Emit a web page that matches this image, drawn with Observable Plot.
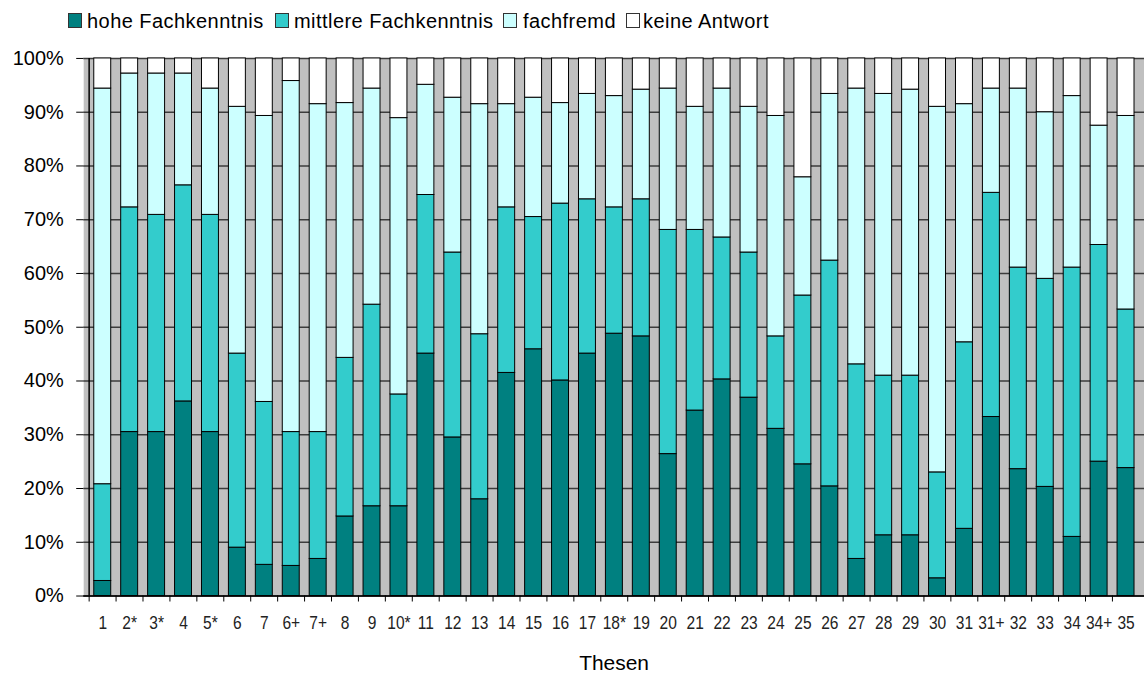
<!DOCTYPE html>
<html><head><meta charset="utf-8">
<script src="https://cdn.jsdelivr.net/npm/d3@7"></script>
<script src="https://cdn.jsdelivr.net/npm/@observablehq/plot@0.6"></script>
<style>
html,body{margin:0;padding:0;background:#fff;overflow:hidden;width:1144px;height:674px}
#legend{position:relative;height:40px;font-family:"Liberation Sans",Arial,sans-serif;font-size:20px;letter-spacing:0.45px;color:#000}
.sw{position:absolute;top:13px;width:12px;height:13px;border:1px solid #333}
.lt{position:absolute;top:9px;line-height:24px;white-space:nowrap}
#chart svg{display:block}
</style></head><body>
<div id="legend"></div><div id="chart"></div>
<script>
const theses = ["1","2*","3*","4","5*","6","7","6+","7+","8","9","10*","11","12","13","14","15","16","17","18*","19","20","21","22","23","24","25","26","27","28","29","30","31","31+","32","33","34","34+","35"];
const seriesNames = ["hohe Fachkenntnis","mittlere Fachkenntnis","fachfremd","keine Antwort"];
const seriesColors = ["#008080","#33cccc","#ccffff","#ffffff"];
const hohe      = [2.8,30.5,30.5,36.2,30.5,9.0,5.8,5.6,6.9,14.8,16.7,16.7,45.1,29.5,18.0,41.5,45.9,40.1,45.1,48.8,48.3,26.4,34.5,40.3,36.9,31.1,24.5,20.4,6.9,11.3,11.3,3.3,12.5,33.3,23.6,20.3,11.0,25.0,23.8];
const mittlere  = [18.0,41.8,40.4,40.2,40.4,36.1,30.3,24.9,23.6,29.5,37.5,20.8,29.5,34.4,30.7,30.8,24.6,32.9,28.7,23.5,25.5,41.7,33.6,26.4,27.0,17.2,31.4,42.0,36.2,29.7,29.7,19.7,34.7,41.7,37.5,38.7,50.1,40.3,29.5];
const fachfremd = [73.6,24.9,26.3,20.8,23.5,45.9,53.2,65.3,61.0,47.4,40.2,51.4,20.5,28.8,42.8,19.2,22.2,18.7,19.6,20.7,20.4,26.3,22.9,27.7,27.1,41.0,22.0,31.0,51.3,52.4,53.2,68.0,44.3,19.4,33.3,31.0,31.9,22.2,36.0];
const keine     = [5.6,2.8,2.8,2.8,5.6,9.0,10.7,4.2,8.5,8.3,5.6,11.1,4.9,7.3,8.5,8.5,7.3,8.3,6.6,7.0,5.8,5.6,9.0,5.6,9.0,10.7,22.1,6.6,5.6,6.6,5.8,9.0,8.5,5.6,5.6,10.0,7.0,12.5,10.7];
const yTicks = [0,0.1,0.2,0.3,0.4,0.5,0.6,0.7,0.8,0.9,1];
const xLabel = "Thesen";

const seriesValues = [hohe, mittlere, fachfremd, keine];
const data = [];
theses.forEach((t, i) => seriesNames.forEach((s, j) => data.push({thesis: t, series: s, value: seriesValues[j][i]})));

// legend
const legendPos = [[68,87],[275,294],[503,523],[626,643]];
const legend = document.getElementById("legend");
seriesNames.forEach((s, j) => {
  const sw = document.createElement("div");
  sw.className = "sw"; sw.style.left = legendPos[j][0] + "px"; sw.style.background = seriesColors[j];
  const lt = document.createElement("div");
  lt.className = "lt"; lt.style.left = legendPos[j][1] + "px"; lt.textContent = s;
  legend.append(sw, lt);
});

const W = 1147, mL = 83.4, mR = 0;
const half = (W - mL - mR) / theses.length / 2;
const narrow = 0.82;

const chart = Plot.plot({
  width: W, height: 634,
  marginLeft: mL, marginRight: mR, marginTop: 18, marginBottom: 77,
  style: {fontFamily: "'Liberation Sans', Arial, sans-serif", background: "transparent", overflow: "visible"},
  x: {domain: theses, paddingInner: 0.38, paddingOuter: 0.19, axis: null},
  y: {domain: [0, 1], axis: null},
  color: {domain: seriesNames, range: seriesColors},
  marks: [
    Plot.frame({fill: "#c0c0c0", stroke: null}),
    Plot.gridY(yTicks, {stroke: "#3c3c3c", strokeOpacity: 1, strokeWidth: 1.5}),
    Plot.barY(data, Plot.stackY({offset: "normalize", order: seriesNames}, {x: "thesis", y: "value", fill: "series", stroke: "#000", strokeWidth: 1})),
    Plot.axisY(yTicks, {tickSize: 7, tickPadding: 13, tickFormat: d3.format(".0%"), fontSize: 20, fill: "#000", stroke: "#000", label: null}),
    Plot.text(theses, {x: d => d, frameAnchor: "bottom", lineAnchor: "top", dy: 20, text: d => d, fontSize: 19, fill: "#222", ariaDescription: "xlabels"}),
    Plot.ruleX(theses, {x: d => d, dx: -half, y1: 0, y2: 0, insetBottom: -6, stroke: "#000", strokeWidth: 1}),
    Plot.ruleY([0], {stroke: "#000", strokeWidth: 1.5}),
    Plot.ruleX([theses[0]], {x: d => d, dx: -half, stroke: "#000", strokeWidth: 1.5}),
    Plot.text([xLabel], {frameAnchor: "bottom", lineAnchor: "middle", dy: 67, text: d => d, fontSize: 21, fill: "#000"})
  ]
});
// narrow face for x tick labels, as in the reference
chart.querySelectorAll('g[aria-description="xlabels"] text').forEach(t => {
  const tr = t.getAttribute("transform") || "";
  if (t.hasAttribute("x")) t.setAttribute("x", +t.getAttribute("x") / narrow);
  t.setAttribute("transform", (tr + ` scale(${narrow},1)`).trim());
});
document.getElementById("chart").append(chart);
</script>
</body></html>
